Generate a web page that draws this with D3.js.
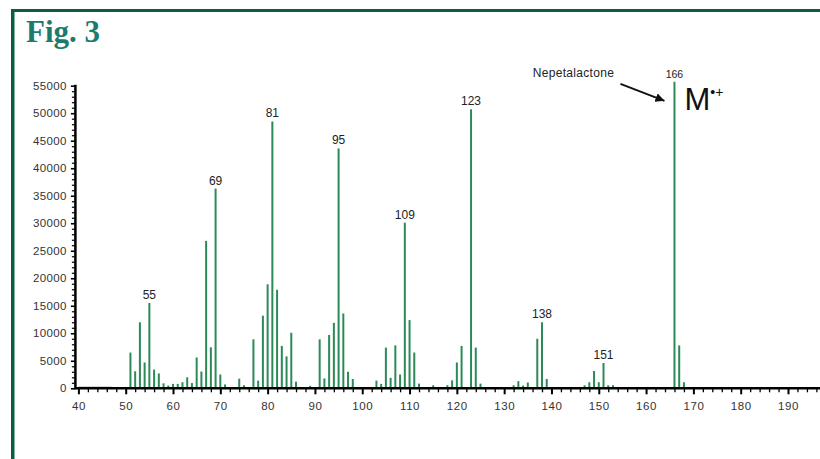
<!DOCTYPE html>
<html>
<head>
<meta charset="utf-8">
<script src="https://cdn.jsdelivr.net/npm/d3@7"></script>
<style>
  html, body { margin: 0; padding: 0; background: #fff; }
  svg { display: block; }
</style>
</head>
<body>
<svg id="chart" width="820" height="459"></svg>
<script>
// Mass spectrum of nepetalactone (EI): m/z and abundance
const mz = [51, 52, 53, 54, 55, 56, 57, 58, 59, 60, 61, 62, 63, 64, 65, 66, 67, 68, 69, 70, 71,
  74, 75, 77, 78, 79, 80, 81, 82, 83, 84, 85, 86, 89, 91, 92, 93, 94, 95, 96, 97, 98,
  103, 104, 105, 106, 107, 108, 109, 110, 111, 112, 115, 118, 119, 120, 121, 123, 124, 125,
  132, 133, 134, 135, 137, 138, 139, 147, 148, 149, 150, 151, 152, 153, 166, 167, 168];
const abundance = [6500, 3100, 12000, 4700, 15500, 3400, 2700, 900, 500, 800, 800, 1100, 2000, 950, 5600, 3050, 26800, 7450, 36300, 2500, 700,
  1750, 550, 8900, 1400, 13200, 18900, 48500, 17900, 7700, 5800, 10100, 1200, 450, 8900, 1800, 9700, 11900, 43600, 13600, 3000, 1700,
  1400, 800, 7400, 1900, 7800, 2500, 30100, 12400, 6500, 850, 550, 550, 1450, 4700, 7700, 50700, 7400, 850,
  550, 1300, 500, 1050, 9000, 12000, 1700, 550, 1100, 3150, 1100, 4600, 550, 550, 55700, 7800, 1100];

// Peaks carrying an m/z label
const labelledPeaks = [55, 69, 81, 95, 109, 123, 138, 151, 166];

// Low-level baseline trace before the first ion
const baselineRange = [40, 47];
const baselineLevel = 250;

// Axis ticks
const xTickLabels = [40, 50, 60, 70, 80, 90, 100, 110, 120, 130, 140, 150, 160, 170, 180, 190];
const yTickLabels = [0, 5000, 10000, 15000, 20000, 25000, 30000, 35000, 40000, 45000, 50000, 55000];

const figureTitle = "Fig. 3";
const compoundName = "Nepetalactone";
const molecularIonPeak = 166;

const svg = d3.select("#chart");

// Frame lines along the top and left edge
const frameColor = "#0b5e3e";
svg.append("rect").attr("x", 11).attr("y", 9).attr("width", 809).attr("height", 3).attr("fill", frameColor);
svg.append("rect").attr("x", 11).attr("y", 9).attr("width", 3.5).attr("height", 450).attr("fill", frameColor);

svg.append("text")
  .attr("x", 26).attr("y", 42)
  .attr("font-family", "'Liberation Serif', 'Times New Roman', serif")
  .attr("font-weight", "bold")
  .attr("font-size", 31)
  .attr("fill", "#1d7b6d")
  .text(figureTitle);

const x = d3.scaleLinear().domain([40, 190]).range([78.4, 788]);
const y = d3.scaleLinear().domain([0, 55000]).range([388.3, 85.7]);
const xEnd = 820;

const font = "'Liberation Sans', Arial, Helvetica, sans-serif";
const barColor = "#2b8a56";

// Spectrum lines
const peaks = mz.map((m, i) => ({ m, v: abundance[i] }));

svg.append("line")
  .attr("x1", x(baselineRange[0])).attr("x2", x(baselineRange[1]))
  .attr("y1", y(baselineLevel)).attr("y2", y(baselineLevel))
  .attr("stroke", "#c8c8c8").attr("stroke-width", 1.5);

svg.append("g").selectAll("line")
  .data(peaks)
  .join("line")
  .attr("x1", d => x(d.m)).attr("x2", d => x(d.m))
  .attr("y1", y(0)).attr("y2", d => y(d.v))
  .attr("stroke", barColor)
  .attr("stroke-width", 2);

// x axis: majors every 10, minors every 2
const xAxisG = svg.append("g").attr("transform", `translate(0,${y(0)})`);
xAxisG.append("line").attr("x1", x(40) - 3).attr("x2", xEnd).attr("stroke", "#000").attr("stroke-width", 2.5);
const xMinor = d3.range(40, x.invert(xEnd), 2).filter(v => v % 10 !== 0);
xAxisG.call(g => {
  g.append("g").call(d3.axisBottom(x).tickValues(xMinor).tickSize(4).tickFormat(""))
    .call(a => a.select(".domain").remove())
    .selectAll("line").attr("stroke-width", 1.3);
  const major = g.append("g").call(d3.axisBottom(x).tickValues(xTickLabels).tickSize(6).tickPadding(8))
    .call(a => a.select(".domain").remove());
  major.selectAll("line").attr("stroke-width", 2);
  major.selectAll("text")
    .attr("font-family", font).attr("font-size", 11.5).attr("fill", "#333")
    .attr("letter-spacing", 0.6);
});

// y axis: majors every 5000, minors every 1000
const yAxisX = x(40) - 3;
const yAxisG = svg.append("g").attr("transform", `translate(${yAxisX},0)`);
yAxisG.append("line").attr("y1", y(0) + 1).attr("y2", y(55000) - 1).attr("stroke", "#000").attr("stroke-width", 2.5);
const yMinor = d3.range(0, 55001, 1000).filter(v => v % 5000 !== 0);
yAxisG.append("g").call(d3.axisLeft(y).tickValues(yMinor).tickSize(3.5).tickFormat(""))
  .call(a => a.select(".domain").remove())
  .selectAll("line").attr("stroke-width", 1.2);
const yMajor = yAxisG.append("g").call(d3.axisLeft(y).tickValues(yTickLabels).tickSize(4.5).tickPadding(4).tickFormat(d3.format("d")))
  .call(a => a.select(".domain").remove());
yMajor.selectAll("line").attr("stroke-width", 1.6);
yMajor.selectAll("text")
  .attr("font-family", font).attr("font-size", 11.5).attr("fill", "#333")
  .attr("letter-spacing", 0.4);

// Peak labels
const peakLabelData = peaks.filter(d => labelledPeaks.includes(d.m));
svg.append("g").selectAll("text")
  .data(peakLabelData)
  .join("text")
  .attr("x", d => x(d.m))
  .attr("y", d => y(d.v) - 4)
  .attr("text-anchor", "middle")
  .attr("font-family", font)
  .attr("font-size", d => d.m === molecularIonPeak ? 10.5 : 12)
  .attr("fill", "#222")
  .text(d => d.m);

// Molecular ion annotation
const mol = peaks.find(d => d.m === molecularIonPeak);
const px = x(mol.m), py = y(mol.v);

svg.append("text")
  .attr("x", px - 101).attr("y", py - 5)
  .attr("text-anchor", "middle")
  .attr("font-family", font).attr("font-size", 12).attr("fill", "#222")
  .attr("letter-spacing", 0.3)
  .text(compoundName);

svg.append("defs").append("marker")
  .attr("id", "head").attr("viewBox", "0 0 10 10")
  .attr("refX", 10).attr("refY", 5)
  .attr("markerWidth", 4.5).attr("markerHeight", 4.5)
  .attr("markerUnits", "strokeWidth")
  .attr("orient", "auto")
  .append("path").attr("d", "M0,0 L10,5 L0,10 Z").attr("fill", "#111");

svg.append("line")
  .attr("x1", px - 54).attr("y1", py + 2)
  .attr("x2", px - 10).attr("y2", py + 19)
  .attr("stroke", "#111").attr("stroke-width", 2)
  .attr("marker-end", "url(#head)");

const mLabel = svg.append("text")
  .attr("x", px + 10).attr("y", py + 28)
  .attr("font-family", font).attr("font-size", 31).attr("fill", "#111");
mLabel.append("tspan").text("M");
mLabel.append("tspan").attr("font-size", 14).attr("dy", -13).text("•+");
</script>
</body>
</html>
